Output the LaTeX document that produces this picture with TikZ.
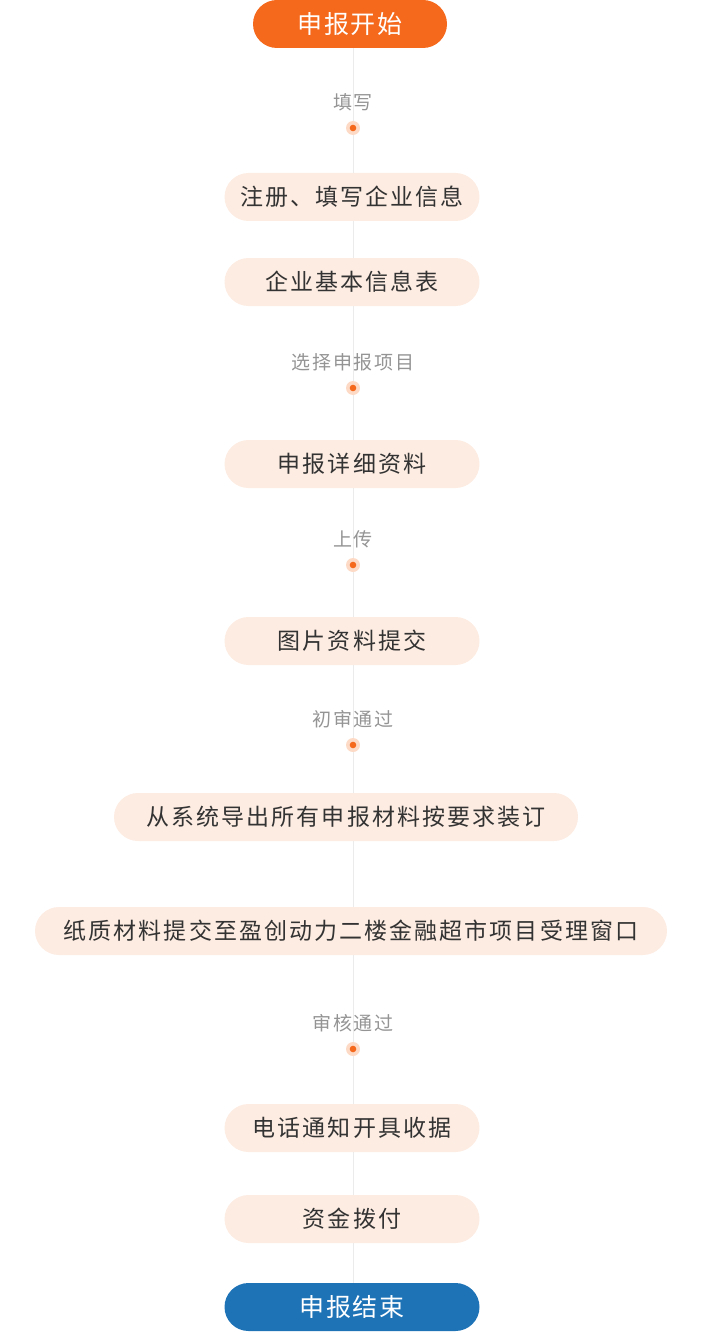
\documentclass[tikz,border=0pt]{standalone}
\usepackage{fontspec}
\usetikzlibrary{positioning,backgrounds}
\newfontfamily\cjkstep[LetterSpace=9]{Noto Sans CJK SC}
\newfontfamily\cjklabel[LetterSpace=9]{Noto Sans CJK SC}
\newfontfamily\cjkend[LetterSpace=6]{Noto Sans CJK SC}
\definecolor{flowOrange}{HTML}{F5691D}
\definecolor{flowBlue}{HTML}{1E73B7}
\definecolor{stepFill}{HTML}{FDECE2}
\definecolor{haloFill}{HTML}{FCDAC6}
\definecolor{lineGray}{HTML}{EBEBEB}
\tikzset{
  stepbox/.style={fill=stepFill, text=black!80, rounded corners=24pt, minimum width=255pt, minimum height=48pt, inner xsep=12pt, font=\cjkstep\fontsize{23}{23}\selectfont},
  endbox/.style={rounded corners=24pt, minimum height=48pt, text=white, font=\cjkend\fontsize{25}{25}\selectfont},
  steplabel/.style={text=black!42, inner sep=0pt, font=\cjklabel\fontsize{19}{19}\selectfont},
  halodot/.style={circle, fill=haloFill, minimum size=14pt, inner sep=0pt, path picture={\fill[flowOrange] (path picture bounding box.center) circle (3.3pt);}}
}
\begin{document}
\begin{tikzpicture}[x=1pt, y=-1pt]
\useasboundingbox (0,0) rectangle (706,1332);
% start and end
\node[endbox, fill=flowOrange, minimum width=194pt] (start) at (350,24) {申报开始};
\node[endbox, fill=flowBlue, minimum width=255pt] (finish) at (352,1307) {申报结束};
% labels and dots
\node[steplabel] (fill) at (353,102) {填写};
\node[halodot] (d1) at (353,128) {};
\node[steplabel] (choose) at (353,362) {选择申报项目};
\node[halodot] (d2) at (353,388) {};
\node[steplabel] (upload) at (353,539) {上传};
\node[halodot] (d3) at (353,565) {};
\node[steplabel] (firstcheck) at (353,719) {初审通过};
\node[halodot] (d4) at (353,745) {};
\node[steplabel] (check) at (353,1023) {审核通过};
\node[halodot] (d5) at (353,1049) {};
% steps
\node[stepbox] (register) at (352,197) {注册、填写企业信息};
\node[stepbox] (basic) at (352,282) {企业基本信息表};
\node[stepbox] (detail) at (352,464) {申报详细资料};
\node[stepbox] (pictures) at (352,641) {图片资料提交};
\node[stepbox, minimum width=464pt] (bind) at (346,817) {从系统导出所有申报材料按要求装订};
\node[stepbox, minimum width=632pt] (paper) at (351,931) {纸质材料提交至盈创动力二楼金融超市项目受理窗口};
\node[stepbox] (phone) at (352,1128) {电话通知开具收据};
\node[stepbox] (pay) at (352,1219) {资金拨付};
\begin{pgfonlayer}{background}
  \draw[lineGray, line width=1pt] (start.south -| d1) -- (finish.north -| d1);
\end{pgfonlayer}
\end{tikzpicture}
\end{document}
